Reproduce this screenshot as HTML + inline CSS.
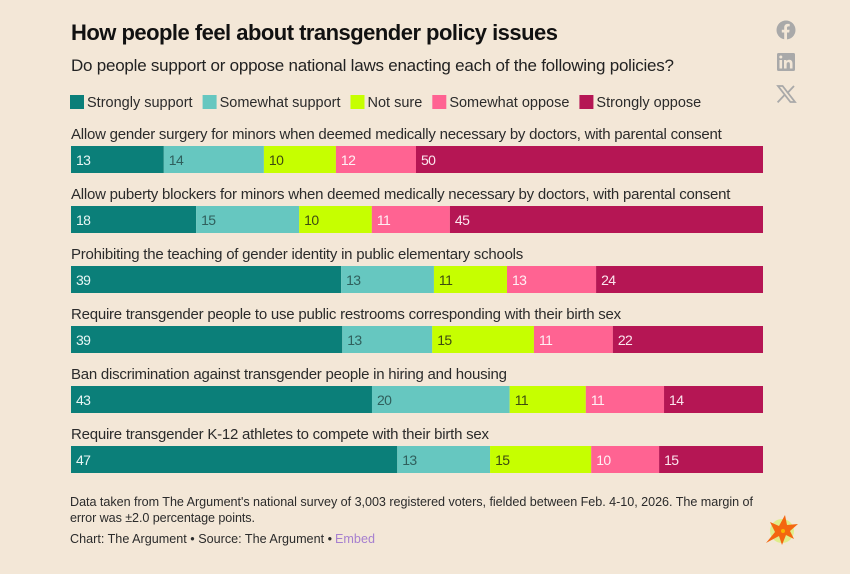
<!DOCTYPE html>
<html lang="en">
<head>
<meta charset="utf-8">
<title>How people feel about transgender policy issues</title>
<style>
html,body{margin:0;padding:0;background:#f3e7d7;}
body{width:850px;height:574px;overflow:hidden;}
svg{display:block;font-family:"Liberation Sans",sans-serif;}
</style>
</head>
<body>
<svg id="chart" width="850" height="574" viewBox="0 0 850 574" xmlns="http://www.w3.org/2000/svg">
  <rect width="850" height="574" fill="#f3e7d7"/>
  <text x="71" y="40" font-size="22" font-weight="700" fill="#111" textLength="487" lengthAdjust="spacing">How people feel about transgender policy issues</text>
  <text x="71" y="71" font-size="17" fill="#222" textLength="603" lengthAdjust="spacing">Do people support or oppose national laws enacting each of the following policies?</text>

  <g>
    <circle cx="786" cy="30" r="9.5" fill="#a9a9a9"/>
    <path d="M784.2 39.5v-7h-2.4v-2.8h2.4v-2.1c0-2.4 1.4-3.7 3.6-3.7 1 0 1.9.1 1.9.1v2.4h-1.2c-1.2 0-1.5.7-1.5 1.5v1.8h2.6l-.4 2.8h-2.2v7z" fill="#f3e7d7"/>
  </g>
  <g>
    <rect x="777" y="53" width="18" height="18" rx="1.5" fill="#a9a9a9"/>
    <rect x="779.5" y="60" width="2.6" height="8.5" fill="#f3e7d7"/>
    <circle cx="780.8" cy="57" r="1.5" fill="#f3e7d7"/>
    <path d="M784 60h2.5v1.2c.5-.8 1.4-1.4 2.7-1.4 2.4 0 3.3 1.5 3.3 4v4.7h-2.6v-4.2c0-1.2-.3-2.2-1.5-2.2s-1.8.9-1.8 2.2v4.2H784z" fill="#f3e7d7"/>
  </g>
  <g>
    <path d="M778 86h4.6l12.4 16h-4.6z" fill="none" stroke="#a9a9a9" stroke-width="1.8"/>
    <path d="M794 86l-6.8 7.3M784.3 95.2L777.6 102.4" fill="none" stroke="#a9a9a9" stroke-width="1.8"/>
  </g>

  <g id="legend"></g>
  <g id="rows"></g>

  <text x="70" y="506" font-size="12.6" fill="#2b2b2b" textLength="683" lengthAdjust="spacing">Data taken from The Argument's national survey of 3,003 registered voters, fielded between Feb. 4-10, 2026. The margin of</text>
  <text x="70" y="522" font-size="12.6" fill="#2b2b2b" textLength="185" lengthAdjust="spacing">error was ±2.0 percentage points.</text>
  <text x="70" y="543" font-size="12.6" fill="#2b2b2b" textLength="262" lengthAdjust="spacing">Chart: The Argument • Source: The Argument •</text>
  <text x="335" y="543" font-size="12.6" fill="#a67fcf" textLength="40" lengthAdjust="spacing">Embed</text>

  <g>
    <circle cx="782" cy="531" r="12" fill="#d6f06a" opacity="0.7"/>
    <polygon points="785,515 787,525 798,524 790,531 794,539 786,535 782,545 779,536 766,543 775,532 770,522 779,526" fill="#f4670f"/>
    <circle cx="783" cy="531" r="2" fill="#f7b500"/>
  </g>
</svg>
<script>
const categories = [
  "Allow gender surgery for minors when deemed medically necessary by doctors, with parental consent",
  "Allow puberty blockers for minors when deemed medically necessary by doctors, with parental consent",
  "Prohibiting the teaching of gender identity in public elementary schools",
  "Require transgender people to use public restrooms corresponding with their birth sex",
  "Ban discrimination against transgender people in hiring and housing",
  "Require transgender K-12 athletes to compete with their birth sex"
];
const seriesNames = ["Strongly support", "Somewhat support", "Not sure", "Somewhat oppose", "Strongly oppose"];
const stronglySupport = [13.4, 18.06, 39.0, 39.2, 43.49, 47.1];
const somewhatSupport = [14.45, 14.88, 13.4, 13.0, 19.9, 13.4];
const notSure = [10.4, 10.49, 10.55, 14.7, 11.0, 14.6];
const somewhatOppose = [11.56, 11.27, 12.86, 11.4, 11.3, 9.8];
const stronglyOppose = [50.1, 45.2, 24.1, 21.7, 14.3, 15.0];

const seriesValues = [stronglySupport, somewhatSupport, notSure, somewhatOppose, stronglyOppose];
const fills = ["#0b7f79", "#66c7c0", "#c6ff00", "#ff6392", "#b51654"];
const inks = ["#e8f6f4", "#2f5f5c", "#3d4a10", "#fff0f4", "#fbe6ee"];
const NS = "http://www.w3.org/2000/svg";
const plotLeft = 71, plotWidth = 692, rowTop = 146, rowStep = 60, barHeight = 27;

function xScale(v) { return v / 100 * plotWidth; }
function rowY(i) { return rowTop + i * rowStep; }
function make(tag, attrs, parent) {
  const el = document.createElementNS(NS, tag);
  for (const k in attrs) el.setAttribute(k, attrs[k]);
  parent.appendChild(el);
  return el;
}

const legend = document.getElementById("legend");
let legendX = 70;
seriesNames.forEach(function (name, s) {
  const swatch = make("rect", {x: legendX, y: 95, width: 14, height: 14, fill: fills[s]}, legend);
  
  
  const label = make("text", {x: legendX + 17, y: 107, "font-size": 14.5, fill: "#2b2b2b"}, legend);
  
  
  label.textContent = name;
  legendX += 17 + label.getComputedTextLength() + 10;
});

const rows = document.getElementById("rows");
categories.forEach(function (cat, i) {
  const title = make("text", {x: 71, y: rowY(i) - 7, "font-size": 15, "letter-spacing": "-0.23", fill: "#2b2b2b"}, rows);
  
  
  title.textContent = cat;
  const total = seriesValues.reduce(function (a, sv) { return a + sv[i]; }, 0);
  let cum = 0;
  seriesValues.forEach(function (sv, s) {
    const v = sv[i] / total * 100;
    const x = plotLeft + xScale(cum);
    const seg = make("rect", {x: x, y: rowY(i), width: xScale(v), height: barHeight, fill: fills[s]}, rows);
    
    
    const val = make("text", {x: x + 5, y: rowY(i) + 19, "font-size": 14, "letter-spacing": "-0.6", fill: inks[s]}, rows);
    
    
    val.textContent = String(Math.round(sv[i]));
    cum += v;
  });
});
</script>
</body>
</html>
